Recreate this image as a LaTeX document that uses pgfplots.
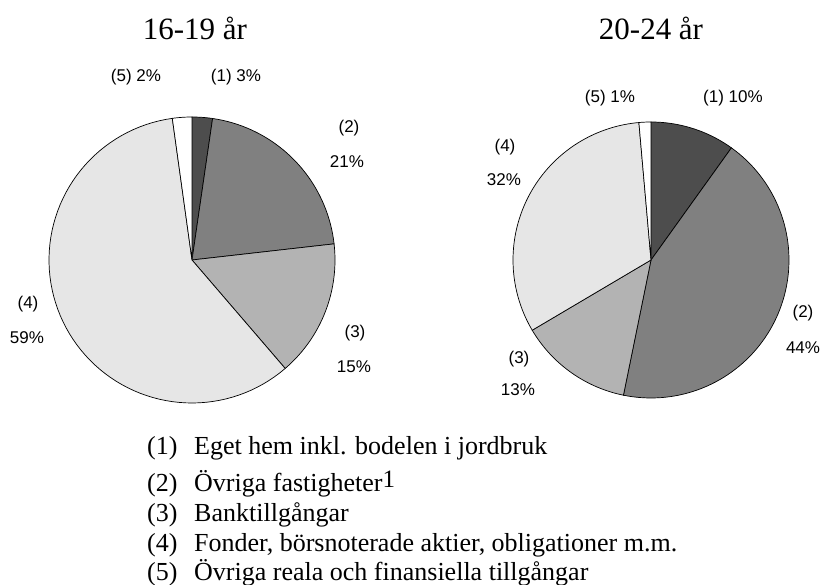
\documentclass[border=0pt]{standalone}
\usepackage{pgfplots}
\pgfplotsset{compat=1.18}
\usepackage{fontspec}
\setmainfont{Liberation Serif}
\newfontfamily\labelfont{Liberation Sans}
\definecolor{c1}{HTML}{4D4D4D}
\definecolor{c2}{HTML}{808080}
\definecolor{c3}{HTML}{B3B3B3}
\definecolor{c4}{HTML}{E6E6E6}
\definecolor{c5}{HTML}{FFFFFF}
% slice: cx, cy, r, cumulative start %, cumulative end %, colour
\newcommand{\slice}[6]{%
  \pgfmathsetmacro{\aone}{90-3.6*#5}%
  \pgfmathsetmacro{\atwo}{90-3.6*#4}%
  \addplot[draw=black, line width=0.7pt, fill=#6, domain=\aone:\atwo, samples=80, variable=\t]
    ({#1+#3*cos(\t)},{#2+#3*sin(\t)}) -- (axis cs:#1,#2) -- cycle;
}
\begin{document}
\begin{tikzpicture}
\begin{axis}[
  width=822bp, height=585bp, scale only axis,
  xmin=0, xmax=822, ymin=0, ymax=585,
  axis lines=none, clip=false,
]
% Left pie 16-19 år: 2.3, 20.9, 15.5, 59.1, 2.2
\slice{192}{325}{143}{0}{2.3}{c1}
\slice{192}{325}{143}{2.3}{23.2}{c2}
\slice{192}{325}{143}{23.2}{38.7}{c3}
\slice{192}{325}{143}{38.7}{97.8}{c4}
\slice{192}{325}{143}{97.8}{100}{c5}
% Right pie 20-24 år: 9.9, 43.3, 13.3, 32.1, 1.4
\slice{651}{325}{138}{0}{9.9}{c1}
\slice{651}{325}{138}{9.9}{53.2}{c2}
\slice{651}{325}{138}{53.2}{66.5}{c3}
\slice{651}{325}{138}{66.5}{98.6}{c4}
\slice{651}{325}{138}{98.6}{100}{c5}

% titles
\node[font=\fontsize{31bp}{37bp}\selectfont] at (axis cs:195,557) {16-19 år};
\node[font=\fontsize{31bp}{37bp}\selectfont] at (axis cs:651,557) {20-24 år};

% pie labels
\begin{scope}[every node/.style={font=\labelfont\fontsize{17bp}{20bp}\selectfont}]
\node at (axis cs:136,508) {(5) 2\%};
\node at (axis cs:236,508) {(1) 3\%};
\node at (axis cs:349,457) {(2)};
\node at (axis cs:347,423) {21\%};
\node at (axis cs:355,252) {(3)};
\node at (axis cs:354,218) {15\%};
\node at (axis cs:28,281) {(4)};
\node at (axis cs:27,247) {59\%};

\node at (axis cs:610,487) {(5) 1\%};
\node at (axis cs:733,487) {(1) 10\%};
\node at (axis cs:505,438) {(4)};
\node at (axis cs:504,405) {32\%};
\node at (axis cs:803,272) {(2)};
\node at (axis cs:803,237) {44\%};
\node at (axis cs:519,226) {(3)};
\node at (axis cs:518,195) {13\%};
\end{scope}

% legend
\begin{scope}[every node/.style={font=\fontsize{26bp}{30bp}\selectfont, anchor=base west, inner sep=0pt}]
\node at (axis cs:147,130) {(1)};
\node at (axis cs:194,130) {Eget hem inkl. bodelen i jordbruk};
\node at (axis cs:147,93) {(2)};
\node at (axis cs:194,93) {Övriga fastigheter\raisebox{4bp}{\fontsize{25bp}{25bp}\selectfont 1}};
\node at (axis cs:147,63) {(3)};
\node at (axis cs:194,63) {Banktillgångar};
\node at (axis cs:147,33) {(4)};
\node at (axis cs:194,33) {Fonder, börsnoterade aktier, obligationer m.m.};
\node at (axis cs:147,5) {(5)};
\node at (axis cs:194,5) {Övriga reala och finansiella tillgångar};
\end{scope}
\end{axis}
\pgfresetboundingbox
\path (0,0) rectangle (822bp,585bp);
\end{tikzpicture}
\end{document}
